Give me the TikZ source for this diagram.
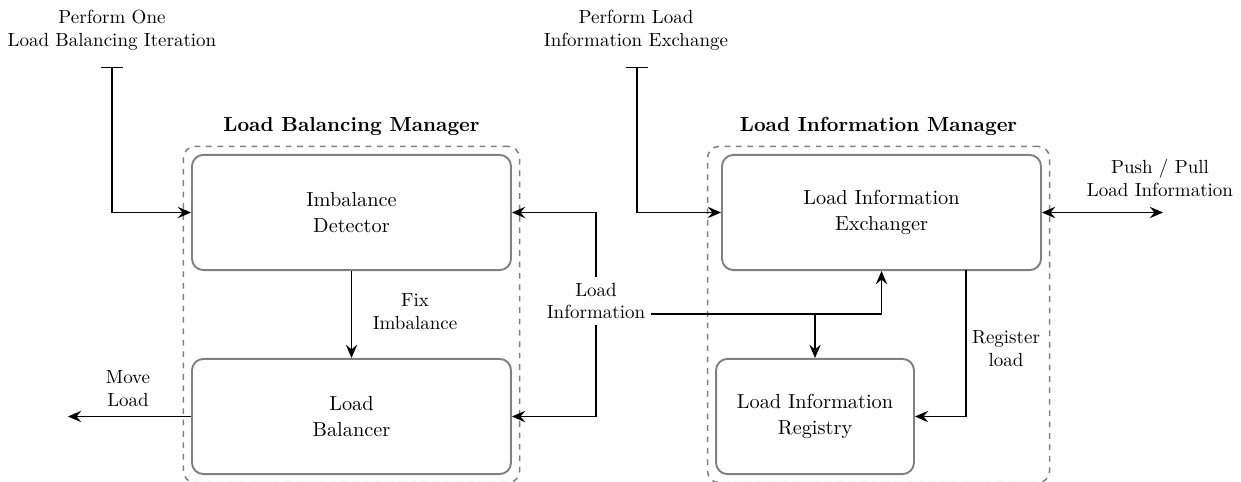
\documentclass[tikz,border=0pt]{standalone}
\usepackage{tikz}
\usetikzlibrary{arrows.meta, positioning, fit}

\begin{document}
\begin{tikzpicture}[x=0.0185cm, y=-0.0185cm,
    block/.style={shape=rectangle, draw=black!50, line width=1pt,
      rounded corners=6pt, align=center, minimum height=2.13cm,
      font=\fontsize{10.7}{13.5}\selectfont},
    group/.style={draw=black!50, dashed, line width=0.8pt, rounded corners=6pt,
      inner sep=0.14cm},
    title/.style={font=\bfseries\fontsize{10.7}{13}\selectfont},
    lbl/.style={align=center, inner sep=3pt},
    line/.style={draw, line width=0.6pt, -{Stealth[length=7pt, width=6pt, inset=2.5pt]}}]
\useasboundingbox (0,0) rectangle (1241,482);

% the component boxes
\begin{scope}[every node/.style={block}]
    \node[minimum width=5.9cm] (det) at (351.5,212.5) {Imbalance\\Detector};
    \node[minimum width=5.9cm] (bal) at (351.5,416.5) {Load\\Balancer};
    \node[minimum width=5.9cm] (exc) at (881.5,212.5) {Load Information\\Exchanger};
    \node[minimum width=3.66cm] (reg) at (815,416.5) {Load Information\\Registry};
\end{scope}

% the managers round them
\node[group, fit=(det)(bal)] (lbm) {};
\node[group, fit=(exc)(reg)] (lim) {};
\node[title, above=2pt of lbm] (lbmt) {Load Balancing Manager};
\node[title, above=2pt of lim] (limt) {Load Information Manager};

% texts
\begin{scope}[every node/.style={lbl}]
    \node (it) at (112,30) {Perform One\\Load Balancing Iteration};
    \node (ie) at (636,30) {Perform Load\\Information Exchange};
    \node (fix) at (415,312) {Fix\\Imbalance};
    \node (move) at (128,389) {Move\\Load};
    \node (li) at (596,301) {Load\\Information};
    \node (rl) at (1006,349) {Register\\load};
    \node (pp) at (1160,178) {Push / Pull\\Load Information};
\end{scope}

\coordinate (itbar) at (112,67);
\coordinate (iebar) at (637,67);
\coordinate (moveend) at (68,416.5);
\coordinate (ppend) at (1163,212.5);
\coordinate (split) at (815,314);
\coordinate (rltop) at (966,270);

\begin{scope}[every path/.style={line}]
    \path[{Bar[width=12pt]}-{Stealth[length=7pt, width=6pt, inset=2.5pt]}] (itbar) |- (det.west);
    \path[{Bar[width=12pt]}-{Stealth[length=7pt, width=6pt, inset=2.5pt]}] (iebar) |- (exc.west);
    \path (det) -- (bal);
    \path (bal.west) -- (moveend);
    \path (li.north) |- (det.east);
    \path (li.south) |- (bal.east);
    \path (li.east |- split) -| (exc.south);
    \path (split) -- (reg.north);
    \path (rltop) |- (reg.east);
    \path[{Stealth[length=7pt, width=6pt, inset=2.5pt]}-{Stealth[length=7pt, width=6pt, inset=2.5pt]}] (exc.east) -- (ppend);
\end{scope}
\end{tikzpicture}
\end{document}
